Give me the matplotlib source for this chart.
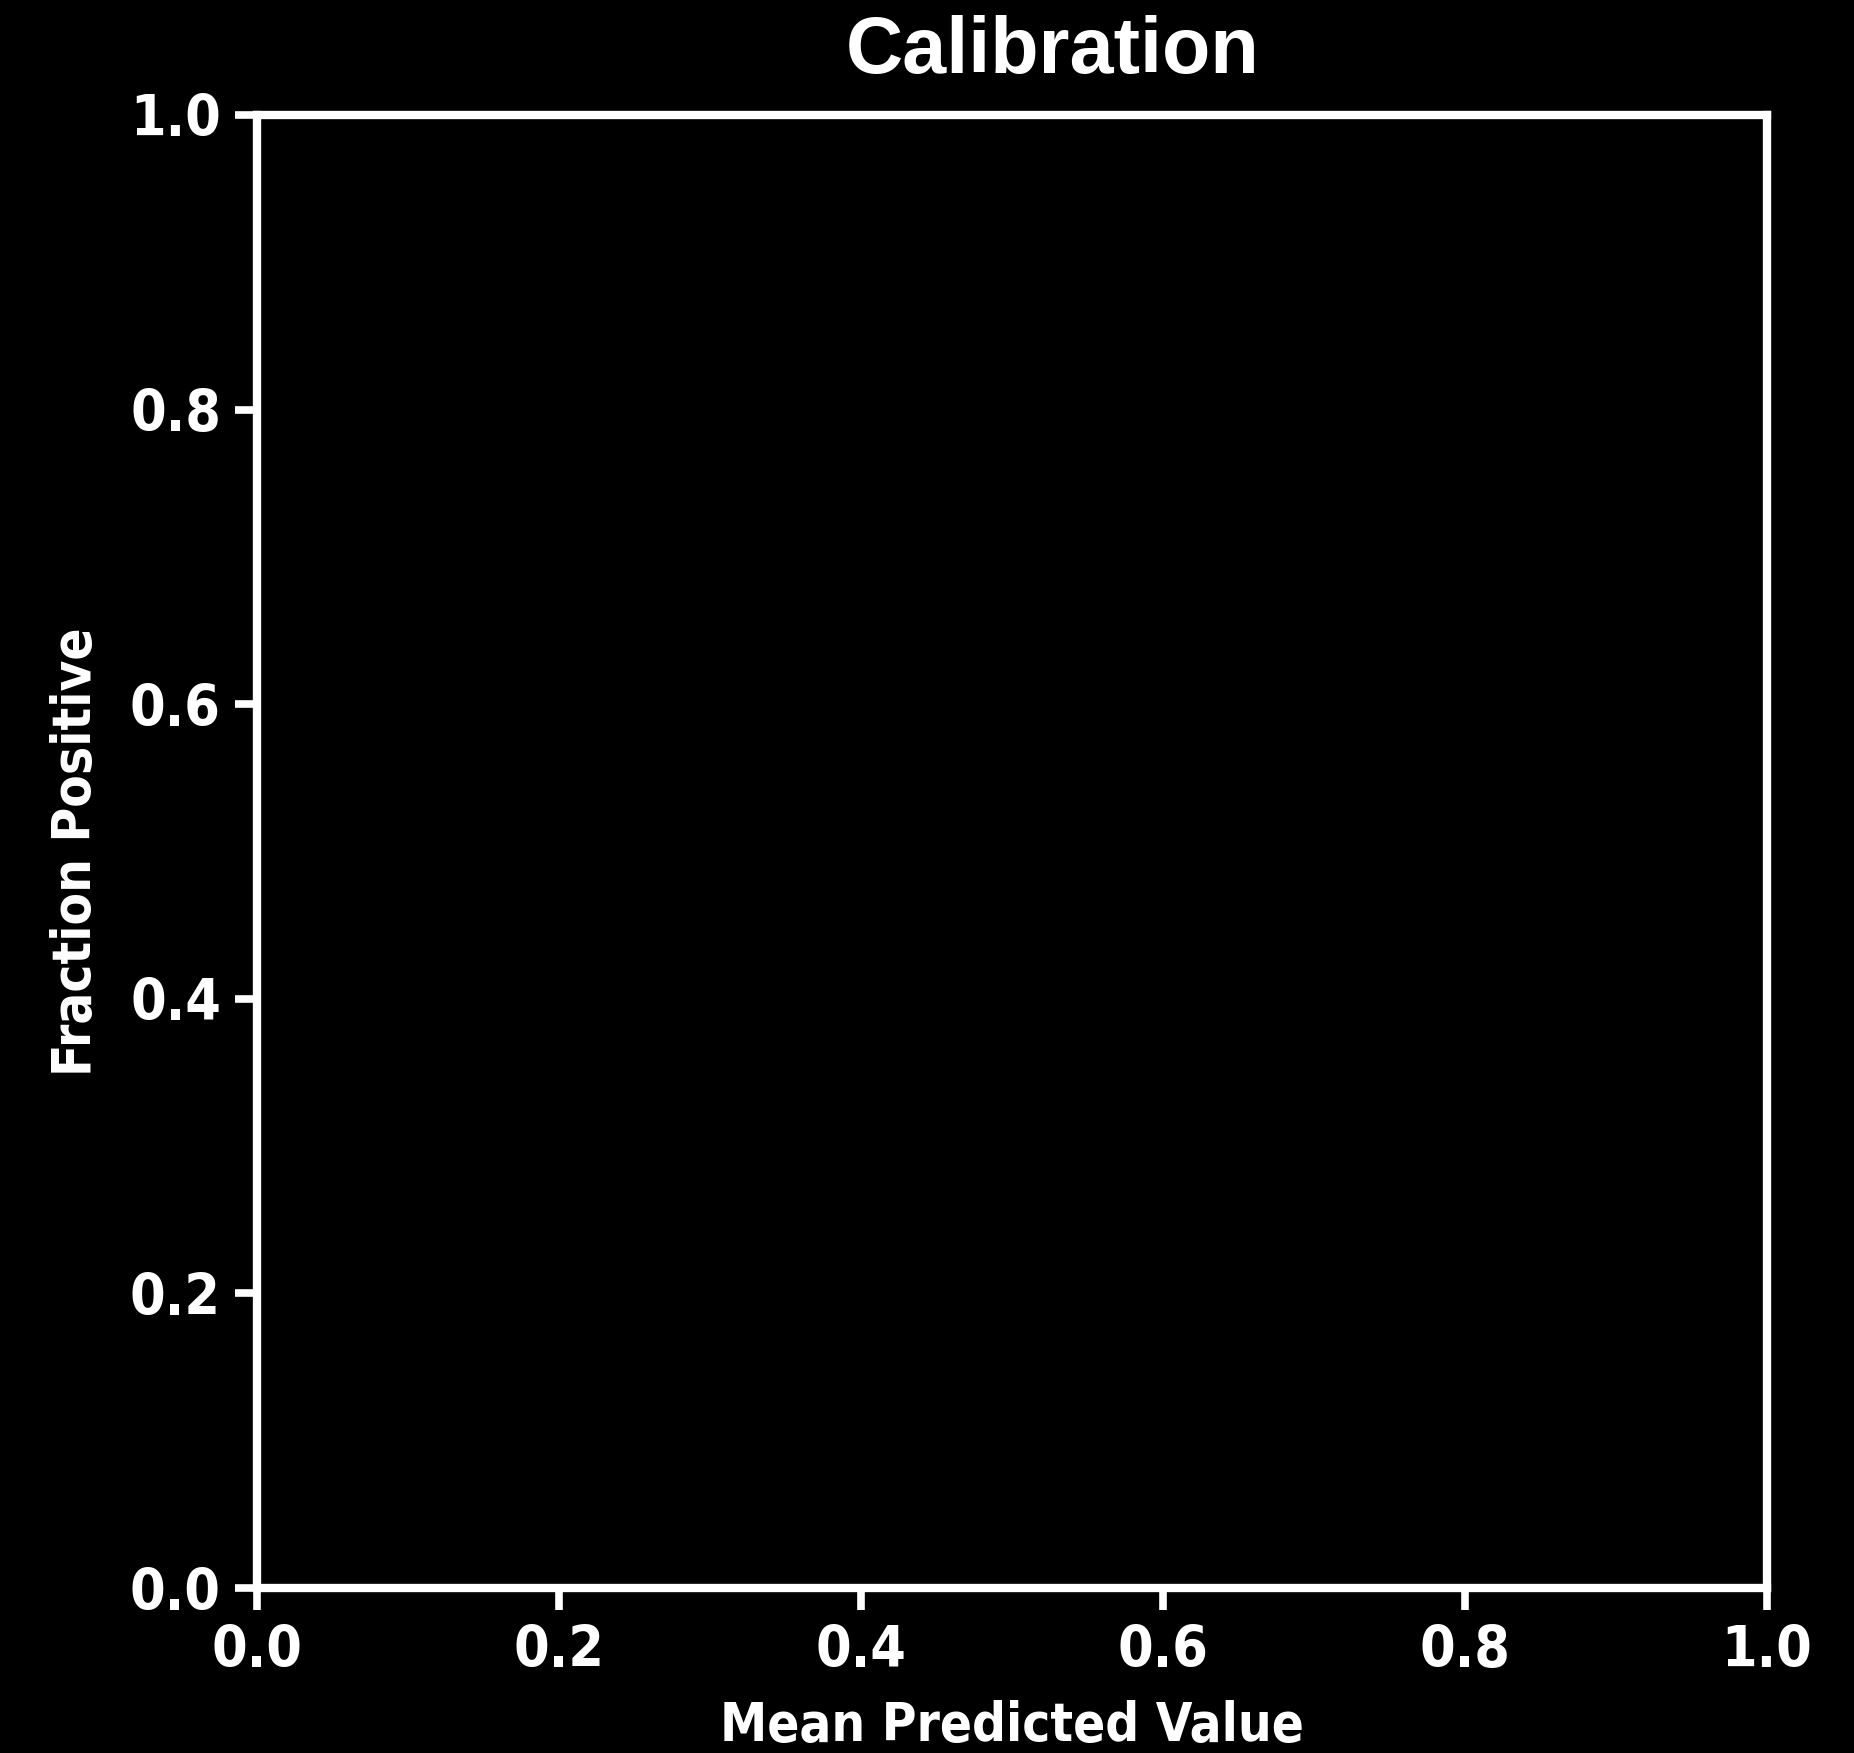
import matplotlib
matplotlib.use("Agg")
import matplotlib.pyplot as plt

# Calibration reference: perfectly calibrated diagonal
ref_x = [0.0, 1.0]
ref_y = [0.0, 1.0]
tick_vals = [0.0, 0.2, 0.4, 0.6, 0.8, 1.0]
tick_labels = ["0.0", "0.2", "0.4", "0.6", "0.8", "1.0"]

label_font = dict(family="DejaVu Sans", stretch="condensed", weight="bold")

fig = plt.figure(figsize=(18.54, 17.53), dpi=100, facecolor="black")
ax = fig.add_axes([257 / 1854, 1 - 1588 / 1753, (1767 - 257) / 1854, (1588 - 115) / 1753])
ax.set_facecolor("black")

ax.plot(ref_x, ref_y, color="black", linestyle=":", linewidth=3)

ax.set_xlim(0, 1)
ax.set_ylim(0, 1)
ax.set_xticks(tick_vals)
ax.set_xticklabels(tick_labels, fontsize=41, color="white", **label_font)
ax.set_yticks(tick_vals)
ax.set_yticklabels(tick_labels, fontsize=41, color="white", **label_font)

for s in ax.spines.values():
    s.set_color("white")
    s.set_linewidth(6)

ax.tick_params(colors="white", length=16, width=5.5, pad=10)

ax.set_xlabel("Mean Predicted Value", color="white", fontsize=38, labelpad=15, **label_font)
ax.set_ylabel("Fraction Positive", color="white", fontsize=38, labelpad=20, **label_font)

fig.text(1053 / 1854, 1 - 53 / 1753, "Calibration", color="white", fontsize=57,
         fontweight="bold", family="Liberation Sans", ha="center", va="center")

fig.savefig("out.png", dpi=100, facecolor="black")
